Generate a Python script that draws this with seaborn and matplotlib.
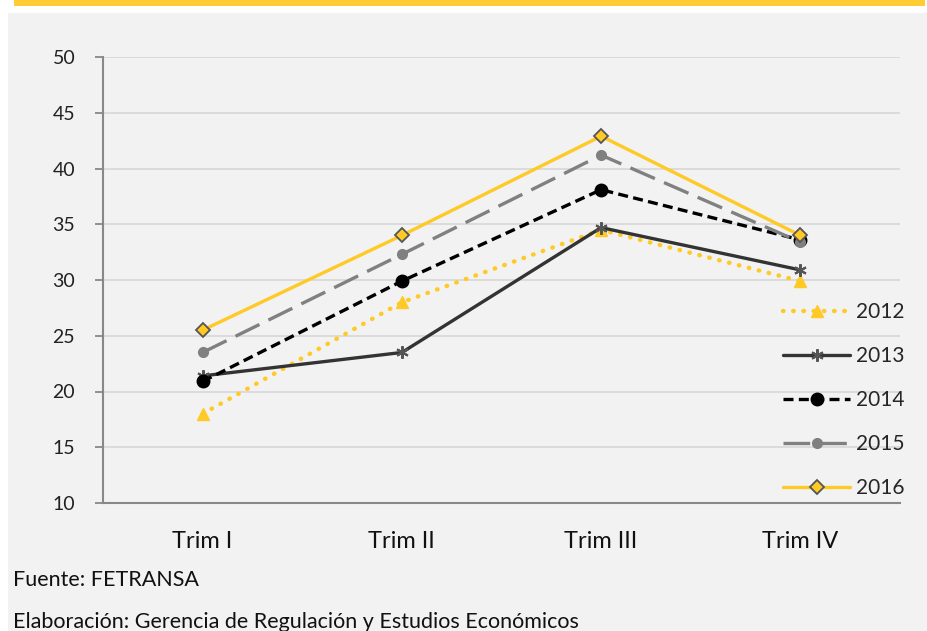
import matplotlib
matplotlib.use("Agg")
import matplotlib.pyplot as plt
from matplotlib.patches import Rectangle
import seaborn as sns
import pandas as pd

categories = ["Trim I", "Trim II", "Trim III", "Trim IV"]
series_names = ["2012", "2013", "2014", "2015", "2016"]
v2012 = [18.0, 28.0, 34.5, 29.9]
v2013 = [21.4, 23.5, 34.7, 30.9]
v2014 = [20.9, 29.9, 38.1, 33.6]
v2015 = [23.5, 32.3, 41.2, 33.4]
v2016 = [25.5, 34.0, 42.9, 34.0]
yticks = [10, 15, 20, 25, 30, 35, 40, 45, 50]
footer1 = "Fuente: FETRANSA"
footer2 = "Elaboración: Gerencia de Regulación y Estudios Económicos"

values = [v2012, v2013, v2014, v2015, v2016]
rows = []
for name, vals in zip(series_names, values):
    for c, v in zip(categories, vals):
        rows.append({"Trimestre": c, "Valor": v, "Serie": name})
df = pd.DataFrame(rows)

sns.set_theme(style="white")
plt.rcParams["font.family"] = ["Lato", "DejaVu Sans"]

YEL = "#FFC926"
styles = {
    "2012": dict(color=YEL, linestyle=(0, (0.1, 2.2)), lw=3.2, marker="^", ms=8,
                 mfc=YEL, mec=YEL, dash_capstyle="round"),
    "2013": dict(color="#333333", linestyle="-", lw=2.4, marker=(6, 2, 0), ms=9,
                 mfc="#555555", mec="#555555", mew=1.5),
    "2014": dict(color="#000000", linestyle=(0, (3, 1.6)), lw=2.4, marker="o", ms=9,
                 mfc="#000000", mec="#000000"),
    "2015": dict(color="#808080", linestyle=(0, (8, 3)), lw=2.4, marker="o", ms=7,
                 mfc="#808080", mec="#808080"),
    "2016": dict(color=YEL, linestyle="-", lw=2.4, marker="D", ms=7.5,
                 mfc=YEL, mec="#555555", mew=1.3),
}

fig = plt.figure(figsize=(9.28, 6.31), dpi=100, facecolor="white")
# grey panel and top yellow bar
fig.patches.append(Rectangle((8 / 928, 0), 1, 1 - 13 / 631, transform=fig.transFigure,
                             facecolor="#F2F2F2", edgecolor="none", zorder=-10))
fig.patches.append(Rectangle((14 / 928, 1 - 6 / 631), 911 / 928, 6 / 631, transform=fig.transFigure,
                             facecolor="#FFCC33", edgecolor="none", zorder=-9))

ax = fig.add_axes([103 / 928, 1 - 503 / 631, (900 - 103) / 928, (503 - 57) / 631])
ax.set_facecolor("none")

for name in series_names:
    st = dict(styles[name])
    sub = df[df["Serie"] == name]
    sns.lineplot(data=sub, x="Trimestre", y="Valor", ax=ax, label=name,
                 color=st.pop("color"), linestyle=st.pop("linestyle"), linewidth=st.pop("lw"),
                 marker=st.pop("marker"), markersize=st.pop("ms"),
                 markerfacecolor=st.pop("mfc"), markeredgecolor=st.pop("mec"),
                 markeredgewidth=st.pop("mew", 1.0), sort=False, **st)

ax.set_xlim(-0.5, 3.5)
ax.set_ylim(10, 50)
ax.set_yticks(yticks)
ax.set_yticklabels([str(t) for t in yticks], fontsize=14, color="#222222")
ax.set_xticks(range(len(categories)))
ax.set_xticklabels(categories, fontsize=17, color="#111111")
ax.set_xticks([-0.5, 0.5, 1.5, 2.5, 3.5], minor=True)
ax.tick_params(axis="x", which="major", length=0, pad=20)
ax.tick_params(axis="x", which="minor", length=6, width=1.3, color="#888888", direction="out")
ax.tick_params(axis="y", length=6, width=1.3, color="#888888", direction="out", left=True, pad=14)
ax.set_xlabel("")
ax.set_ylabel("")
ax.grid(axis="y", color="#D9D9D9", linewidth=1.3)
ax.set_axisbelow(True)
for s in ["top", "right"]:
    ax.spines[s].set_visible(False)
for s in ["left", "bottom"]:
    ax.spines[s].set_color("#888888")
    ax.spines[s].set_linewidth(1.5)

leg = ax.legend(loc="upper left", bbox_to_anchor=(773 / 928, 1 - 292 / 631),
                bbox_transform=fig.transFigure, frameon=False, fontsize=15,
                handlelength=3.2, handletextpad=0.3, labelspacing=1.15, borderpad=0)

fig.text(13 / 928, 1 - 580 / 631, footer1, fontsize=15.5, va="center", ha="left", color="#111111")
fig.text(13 / 928, 1 - 622 / 631, footer2, fontsize=15.5, va="center", ha="left", color="#111111")

fig.savefig("out.png", dpi=100, facecolor="white")
